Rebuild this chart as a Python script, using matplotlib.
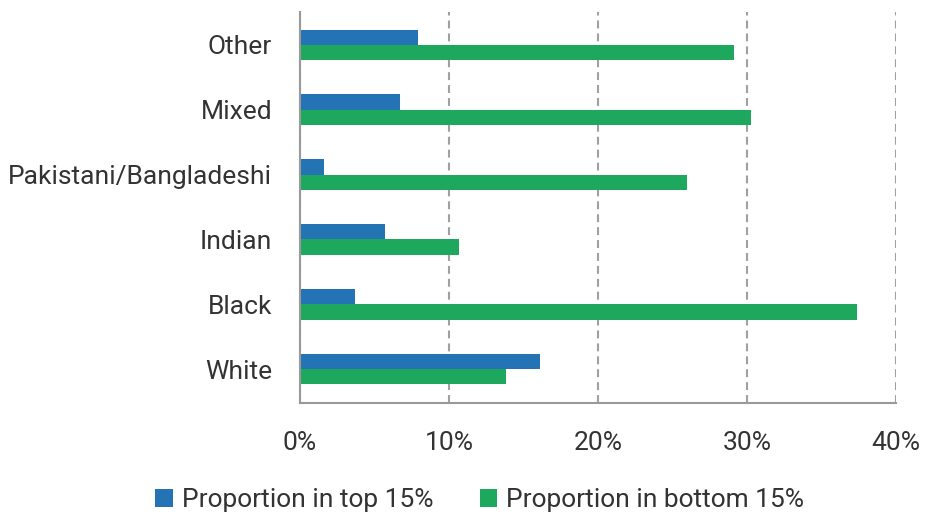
import numpy as np
import matplotlib.pyplot as plt

categories = ['White', 'Black', 'Indian', 'Pakistani/Bangladeshi', 'Mixed', 'Other']
top_15 = [16.1, 3.7, 5.7, 1.6, 6.7, 7.9]
bottom_15 = [13.8, 37.4, 10.7, 26.0, 30.3, 29.1]
series_names = ['Proportion in top 15%', 'Proportion in bottom 15%']

blue = '#2373B5'
green = '#1EA85E'
text_col = '#333333'

plt.rcParams['font.family'] = ['Roboto', 'DejaVu Sans']

fig = plt.figure(figsize=(9.26, 5.14), dpi=100)
ax = fig.add_axes([0.324, 0.216, 0.6435, 0.76])

y = np.arange(len(categories))
h = 0.235
ax.barh(y + h / 2, top_15, height=h, color=blue, label=series_names[0])
ax.barh(y - h / 2, bottom_15, height=h, color=green, label=series_names[1])

ax.set_xlim(0, 40)
ax.set_ylim(-0.52, 5.5)
ax.set_xticks([0, 10, 20, 30, 40])
ax.set_xticklabels(['0%', '10%', '20%', '30%', '40%'])
ax.set_yticks(y)
ax.set_yticklabels(categories)
ax.tick_params(axis='both', length=0, labelsize=19, colors=text_col)
ax.tick_params(axis='y', pad=20)
ax.tick_params(axis='x', pad=20)

ax.grid(axis='x', color='#a0a0a0', linestyle=(0, (3.8, 2.4)), linewidth=1.5)
ax.set_axisbelow(True)
for s in ['top', 'right']:
    ax.spines[s].set_visible(False)
for s in ['left', 'bottom']:
    ax.spines[s].set_color('#999999')
    ax.spines[s].set_linewidth(1.5)

fig.legend(loc='lower center', bbox_to_anchor=(0.518, -0.043), ncol=2, frameon=False,
           fontsize=19, handlelength=0.65, handleheight=0.65, handletextpad=0.35,
           columnspacing=1.75, labelcolor=text_col)

fig.savefig('out.png', dpi=100)
